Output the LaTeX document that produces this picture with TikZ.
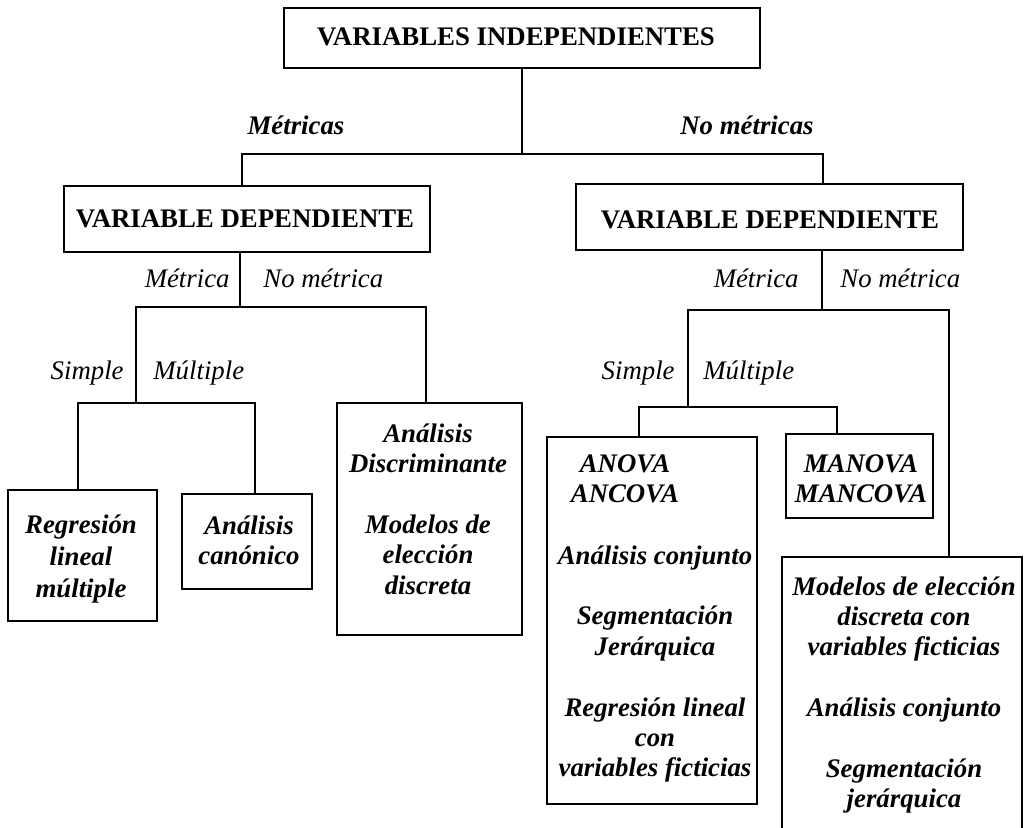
\documentclass[tikz,border=0pt]{standalone}
\usepackage{fontspec}
\setmainfont{Liberation Serif}
\usetikzlibrary{fit}
\tikzset{
  caja/.style={draw, line width=0.9pt, inner sep=0pt},
  cajamayor/.style={caja, line width=1.2pt},
  texto/.style={inner sep=0pt, align=center, anchor=north,
    font=\fontsize{13.4}{15.2}\selectfont\bfseries\itshape},
  titulo/.style={inner sep=0pt, anchor=base, font=\fontsize{13.4}{15.2}\selectfont\bfseries},
  rama/.style={inner sep=0pt, font=\fontsize{13.4}{15.2}\selectfont\itshape},
  ramamayor/.style={rama, anchor=base, font=\fontsize{13.4}{15.2}\selectfont\bfseries\itshape},
  linea/.style={line width=0.75pt}
}

\begin{document}
\begin{tikzpicture}[x=0.5pt,y=-0.5pt]
\useasboundingbox (0,0) rectangle (1024,828);
\clip (0,0) rectangle (1024,828);

%cajas principales
\node[cajamayor, fit={(284,8) (760,68)}] (indep) {};
\node[cajamayor, fit={(64,186) (430,252)}] (depL) {};
\node[cajamayor, fit={(576,184) (963,250)}] (depR) {};
\node[titulo] (tindep) at (516,46) {VARIABLES INDEPENDIENTES};
\node[titulo] (tdepL) at (245,228) {VARIABLE DEPENDIENTE};
\node[titulo] (tdepR) at (770,229) {VARIABLE DEPENDIENTE};

%cajas de tecnicas
\node[caja, fit={(8,490) (157,621)}] (regr) {};
\node[caja, fit={(182,494) (312,589)}] (canon) {};
\node[caja, fit={(337,403) (522,635)}] (discr) {};
\node[caja, fit={(547,437) (757,804)}] (anova) {};
\node[caja, fit={(786,434) (933,518)}] (manova) {};
\node[caja, fit={(782,557) (1022,870)}] (nomet) {};

%textos dentro de las cajas
\node[texto] (tregr) at (81,514) {Regresión\\[1pt]lineal\\[1pt]múltiple};
\node[texto] (tcanon) at (249,515) {Análisis\\canónico};
\node[texto] (tdiscr) at (428,423) {Análisis\\Discriminante\\[15.2pt]Modelos de\\elección\\discreta};
\node[texto] (tanova) at (625,454) {ANOVA\\ANCOVA};
\node[texto] (tanova2) at (655,545) {Análisis conjunto\\[15.2pt]Segmentación\\Jerárquica\\[15.2pt]Regresión lineal\\con\\variables ficticias};
\node[texto] (tmanova) at (861,454) {MANOVA\\MANCOVA};
\node[texto] (tnomet) at (904,576) {Modelos de elección\\discreta con\\variables ficticias\\[15.2pt]Análisis conjunto\\[15.2pt]Segmentación\\jerárquica};

%etiquetas de las ramas
\node[ramamayor] (met) at (296,135) {Métricas};
\node[ramamayor] (nomets) at (747,135) {No métricas};
\node[rama, anchor=base east] (metL) at (230,288) {Métrica};
\node[rama, anchor=base west] (nometL) at (263,288) {No métrica};
\node[rama, anchor=base east] (simL) at (124,380) {Simple};
\node[rama, anchor=base west] (mulL) at (153,380) {Múltiple};
\node[rama, anchor=base east] (metR) at (799,288) {Métrica};
\node[rama, anchor=base west] (nometR) at (840,288) {No métrica};
\node[rama, anchor=base east] (simR) at (675,380) {Simple};
\node[rama, anchor=base west] (mulR) at (703,380) {Múltiple};

%puntos de union
\coordinate (bL) at (242,154);
\coordinate (bR) at (823,154);
\coordinate (cM) at (240,307);
\coordinate (cL) at (136,307);
\coordinate (cR) at (426,307);
\coordinate (dL) at (78,403);
\coordinate (dR) at (255,403);
\coordinate (eM) at (822,310);
\coordinate (eL) at (688,310);
\coordinate (eR) at (949,310);
\coordinate (fL) at (639,407);
\coordinate (fR) at (837,407);

%lineas
\draw[linea] (indep.south) -- (indep.south |- bL);
\draw[linea] (bL |- depL.north) -- (bL) -- (bR) -- (bR |- depR.north);
\draw[linea] (cM |- depL.south) -- (cM);
\draw[linea] (cR |- discr.north) -- (cR) -- (cL) -- (cL |- dL);
\draw[linea] (dL |- regr.north) -- (dL) -- (dR) -- (dR |- canon.north);
\draw[linea] (eM |- depR.south) -- (eM);
\draw[linea] (eR |- nomet.north) -- (eR) -- (eL) -- (eL |- fL);
\draw[linea] (fL |- anova.north) -- (fL) -- (fR) -- (fR |- manova.north);
\end{tikzpicture}
\end{document}
